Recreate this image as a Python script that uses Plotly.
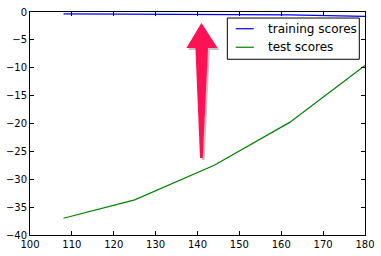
import plotly.graph_objects as go

train_sizes = [108, 125, 144, 162, 180]
training_scores = [-0.35, -0.36, -0.4, -0.5, -0.8]
test_scores = [-37.0, -33.7, -27.5, -19.8, -9.6]
series_names = ["training scores", "test scores"]
series_colors = ["#0000FF", "#008000"]
x_ticks = [100, 110, 120, 130, 140, 150, 160, 170, 180]
y_ticks = [0, -5, -10, -15, -20, -25, -30, -35, -40]

# annotation arrow outline (data coordinates)
arrow_x = [140.93, 144.75, 142.5, 141.25, 140.6, 139.5, 137.35]
arrow_y = [-1.97, -6.46, -6.46, -26.19, -26.19, -6.46, -6.46]

fig = go.Figure()
for name, ys, col in zip(series_names, [training_scores, test_scores], series_colors):
    fig.add_trace(go.Scatter(x=train_sizes, y=ys, mode="lines", name=name,
                             line=dict(color=col, width=1.2), showlegend=False))

def path_from(xs, ys, dx=0.0, dy=0.0):
    pts = [f"{x+dx},{y+dy}" for x, y in zip(xs, ys)]
    return "M" + " L".join(pts) + " Z"

# shadow
fig.add_shape(type="path", path=path_from(arrow_x, arrow_y, 0.45, -0.35),
              fillcolor="rgba(120,120,120,0.45)", line=dict(width=0), layer="above")
fig.add_shape(type="path", path=path_from(arrow_x, arrow_y),
              fillcolor="#FF1155", line=dict(width=0), layer="above")

# manual legend (matplotlib style)
fig.add_shape(type="rect", xref="paper", yref="paper", x0=0.589, x1=0.983, y0=0.788, y1=0.973,
              line=dict(color="black", width=1), fillcolor="white", layer="above")
rows_y = [0.925, 0.842]
for name, col, ry in zip(series_names, series_colors, rows_y):
    fig.add_shape(type="line", xref="paper", yref="paper", x0=0.614, x1=0.668, y0=ry, y1=ry,
                  line=dict(color=col, width=1.2), layer="above")
    fig.add_annotation(xref="paper", yref="paper", x=0.704, y=ry, text=name, showarrow=False,
                       xanchor="left", yanchor="middle",
                       font=dict(family="DejaVu Sans", size=12, color="black"))

axis_common = dict(showline=True, linecolor="black", linewidth=1, mirror="ticks",
                   ticks="inside", ticklen=4, tickcolor="black", tickwidth=1,
                   showgrid=False, zeroline=False, automargin=False,
                   tickfont=dict(family="DejaVu Sans", size=10, color="black"))
fig.update_xaxes(range=[100, 180], tickvals=x_ticks, **axis_common)
fig.update_yaxes(range=[-40, 0], tickvals=y_ticks, **axis_common)

fig.update_layout(width=381, height=256, margin=dict(l=30, r=16, t=12, b=21),
                  plot_bgcolor="white", paper_bgcolor="white", showlegend=False)
fig.write_html("out.html")
